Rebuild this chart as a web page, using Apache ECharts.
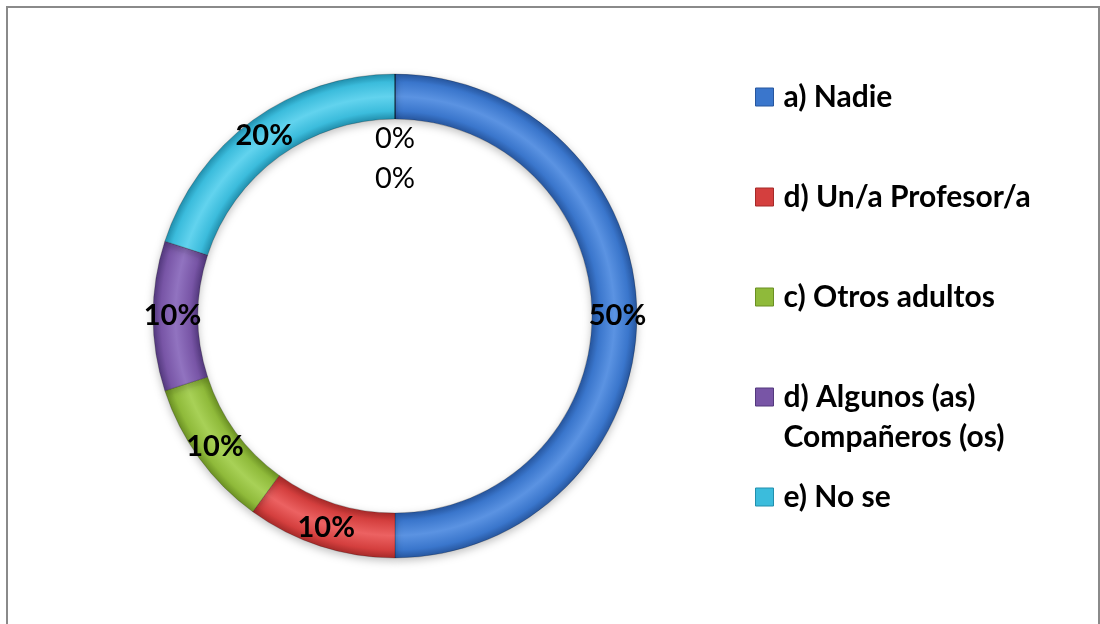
<!DOCTYPE html>
<html><head><meta charset="utf-8">
<script src="https://cdn.jsdelivr.net/npm/echarts@6/dist/echarts.min.js"></script>
<style>html,body{margin:0;padding:0;background:#fff}#c{width:1100px;height:624px}</style>
</head><body><div id="c"></div>
<script>
const categories = ['a) Nadie', 'd) Un/a Profesor/a', 'c) Otros adultos', 'd) Algunos (as) Compañeros (os)', 'e) No se', 'x1', 'x2'];
const values = [50, 10, 10, 10, 20, 0, 0];
const legendNames = ['a) Nadie', 'd) Un/a Profesor/a', 'c) Otros adultos', 'd) Algunos (as) Compañeros (os)', 'e) No se'];

const base = ['#3a76cc', '#d43f3e', '#8fba3a', '#7855a6', '#3bbcdc'];
const light = ['#5b93e2', '#ec6262', '#a8d157', '#9173c0', '#62d3ee'];
const dark = ['#27569e', '#a52a29', '#6a8f23', '#53397d', '#228fad'];
const CX = 395, CY = 316, R0 = 197, R1 = 242;

function ringGrad(i) {
  return new echarts.graphic.RadialGradient(CX, CY, R1, [
    { offset: R0 / R1, color: dark[i] },
    { offset: (R0 + 8) / R1, color: base[i] },
    { offset: ((R0 + R1) / 2) / R1, color: light[i] },
    { offset: (R1 - 8) / R1, color: base[i] },
    { offset: 1, color: dark[i] }
  ], true);
}

const FONT = 'Lato';
const chart = echarts.init(document.getElementById('c'));
const data = categories.map((n, i) => {
  const d = { name: n, value: values[i] };
  if (i < 5) {
    d.itemStyle = { color: ringGrad(i) };
  } else {
    d.itemStyle = { color: 'transparent' };
    d.label = { fontWeight: 'normal' };
  }
  return d;
});

function legendItem(i) {
  return { name: legendNames[i], itemStyle: { color: base[i], borderColor: dark[i], borderWidth: 1 } };
}
const legendCommon = {
  orient: 'vertical', left: 755, padding: 0, icon: 'rect', itemWidth: 18, itemHeight: 18,
  selectedMode: false,
  textStyle: { fontFamily: FONT, fontWeight: 'bold', fontSize: 30, color: '#000', lineHeight: 40, padding: [0, 0, 0, 5] }
};

chart.setOption({
  animation: false,
  graphic: [{ type: 'rect', shape: { x: 7, y: 7, width: 1092, height: 700 }, style: { fill: 'none', stroke: '#8a8a8a', lineWidth: 2 } }],
  legend: [
    Object.assign({}, legendCommon, { top: 77, itemGap: 60, data: [0, 1, 2].map(legendItem) }),
    Object.assign({}, legendCommon, {
      top: 337, itemGap: 20, data: [3, 4].map(legendItem),
      formatter: n => n === legendNames[3] ? '\nd) Algunos (as)\nCompañeros (os)' : n
    })
  ],
  series: [{
    type: 'pie',
    center: [CX, CY],
    radius: [R0, R1],
    startAngle: 90,
    clockwise: true,
    avoidLabelOverlap: false,
    itemStyle: { borderColor: 'rgba(0,0,0,0.35)', borderWidth: 0.6, shadowBlur: 8, shadowColor: 'rgba(0,0,0,0.25)', shadowOffsetY: 3 },
    label: {
      show: true, position: 'inside', formatter: p => p.value + '%',
      fontFamily: FONT, fontWeight: 'bold', fontSize: 29, color: '#000'
    },
    labelLine: { show: false },
    labelLayout: p => {
      if (p.dataIndex === 5) return { dy: 45 };
      if (p.dataIndex === 6) return { dy: 85 };
      return {};
    },
    emphasis: { disabled: true },
    data: data
  }]
});
</script></body></html>
